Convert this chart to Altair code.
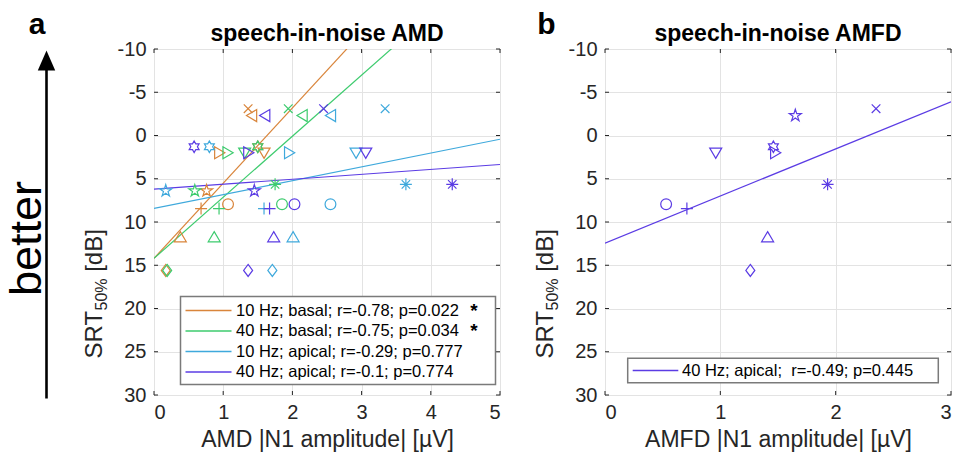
import math
import altair as alt
import pandas as pd

FONT = "Liberation Sans"
AXC = "#262626"

# ---------------- data ----------------
conds = ["10 Hz; basal", "40 Hz; basal", "10 Hz; apical", "40 Hz; apical"]
colors = ["#D9853B", "#3DCB6E", "#3FA9DC", "#5B3CE4"]

left_markers = ["x", "<", "hex", ">", "v", "pent", "*", "+", "o", "^", "d"]
srt_left = [-3.1, -2.3, 1.3, 2.0, 2.05, 6.4, 5.65, 8.45, 7.95, 11.7, 15.6]
amd_10_basal = [1.36, 1.41, 1.50, 0.95, 1.59, 0.76, None, 0.68, 1.07, 0.38, 0.17]
amd_40_basal = [1.94, 2.14, 1.50, 1.07, 1.31, 0.59, 1.75, 0.94, 1.85, 0.87, 0.19]
amd_10_apical = [3.34, 2.55, 0.80, 1.96, 2.92, 0.17, 3.64, 1.59, 2.55, 2.01, 1.71]
amd_40_apical = [2.45, 1.60, 0.58, 1.37, 3.06, 1.45, 4.31, 1.67, 2.03, 1.73, 1.36]

right_markers = ["o", "+", "v", "hex", ">", "pent", "x", "*", "^", "d"]
srt_right = [7.95, 8.45, 2.05, 1.3, 2.0, -2.3, -3.1, 5.65, 11.7, 15.6]
amfd_40_apical = [0.53, 0.71, 0.96, 1.46, 1.48, 1.65, 2.35, 1.93, 1.41, 1.26]

# regression lines (intercept at x=0, slope)
left_intercepts = [14.2, 14.2, 8.43, 6.2]
left_slopes = [-8.69, -7.06, -1.6, -0.57]
right_intercept = [12.45]
right_slope = [-5.45]

legend_left = ["10 Hz; basal; r=-0.78; p=0.022", "40 Hz; basal; r=-0.75; p=0.034",
               "10 Hz; apical; r=-0.29; p=0.777", "40 Hz; apical; r=-0.1; p=0.774"]
legend_stars = ["*", "*", "", ""]
legend_right = "40 Hz; apical;\u00a0\u00a0r=-0.49; p=0.445"

y_ticks = [-10, -5, 0, 5, 10, 15, 20, 25, 30]
x_ticks_left = [0, 1, 2, 3, 4, 5]
x_ticks_right = [0, 1, 2, 3]

# ---------------- marker shapes ----------------
def star_path(n, rin, rout=1.0):
    pts = []
    for i in range(2 * n):
        a = -math.pi / 2 + i * math.pi / n
        r = rout if i % 2 == 0 else rin
        pts.append((r * math.cos(a), r * math.sin(a)))
    return "M" + "L".join(f"{x:.3f},{y:.3f}" for x, y in pts) + "Z"

shape_names = ["x", "<", "hex", ">", "v", "pent", "*", "+", "o", "^", "d"]
shape_paths = [
    "M-0.72,-0.72L0.72,0.72M-0.72,0.72L0.72,-0.72",
    "M-0.85,0L0.85,-1L0.85,1Z",
    star_path(6, 0.55, 0.95),
    "M0.85,0L-0.85,-1L-0.85,1Z",
    "M0,0.85L1,-0.85L-1,-0.85Z",
    star_path(5, 0.40, 1.05),
    "M-1,0L1,0M0,-1L0,1M-0.7,-0.7L0.7,0.7M-0.7,0.7L0.7,-0.7",
    "M-1,0L1,0M0,-1L0,1",
    "M0.9,0A0.9,0.9,0,1,1,-0.9,0A0.9,0.9,0,1,1,0.9,0Z",
    "M0,-0.85L1,0.85L-1,0.85Z",
    "M0,-1L0.75,0L0,1L-0.75,0Z",
]

# ---------------- tables ----------------
rows = []
for cond, vals in zip(conds, [amd_10_basal, amd_40_basal, amd_10_apical, amd_40_apical]):
    for m, xv, yv in zip(left_markers, vals, srt_left):
        if xv is not None:
            rows.append({"x": xv, "y": yv, "marker": m, "cond": cond})
left_pts = pd.DataFrame(rows)
right_pts = pd.DataFrame({"x": amfd_40_apical, "y": srt_right,
                          "marker": right_markers, "cond": conds[3]})

lrows = []
for cond, b, s in zip(conds, left_intercepts, left_slopes):
    for xv in [0, 5]:
        lrows.append({"x": xv, "y": b + s * xv, "cond": cond})
left_lines = pd.DataFrame(lrows)
right_lines = pd.DataFrame([{"x": xv, "y": right_intercept[0] + right_slope[0] * xv,
                             "cond": conds[3]} for xv in [0, 3]])

W, H = 346, 346
color_scale = alt.Scale(domain=conds, range=colors)
shape_scale = alt.Scale(domain=shape_names, range=shape_paths)
y_scale = alt.Scale(domain=[-10, 30], reverse=True, nice=False, zero=False)

def y_axis():
    return alt.Axis(values=y_ticks, grid=True, gridColor="#e3e3e3", ticks=False, tickSize=0,
                    domain=False, labelFont=FONT, labelFontSize=20, labelColor=AXC,
                    labelPadding=8, title=None, labelExpr="'' + datum.value")

def x_axis(vals, title):
    return alt.Axis(values=vals, grid=True, gridColor="#e3e3e3", ticks=False, tickSize=0,
                    domain=False, labelFont=FONT, labelFontSize=20, labelColor=AXC,
                    labelPadding=7, title=title, titleFont=FONT, titleFontSize=23,
                    titleFontWeight="normal", titleColor=AXC, titlePadding=6,
                    labelExpr="'' + datum.value")

dummy = pd.DataFrame({"t": [""]})

def text(t, x, y, size, **kw):
    return alt.Chart(pd.DataFrame({"t": [t]})).mark_text(
        font=FONT, fontSize=size, **kw).encode(x=alt.value(x), y=alt.value(y), text="t:N")

def rule(x, x2, y, y2, **kw):
    return alt.Chart(dummy).mark_rule(**kw).encode(
        x=alt.value(x), x2=alt.value(x2), y=alt.value(y), y2=alt.value(y2))

def ticks(xvals, xmax):
    tx = pd.DataFrame({"x": xvals})
    ty = pd.DataFrame({"y": y_ticks})
    xs = alt.Scale(domain=[0, xmax], nice=False)
    c = []
    c.append(alt.Chart(ty).mark_rule(color=AXC, strokeWidth=1).encode(
        y=alt.Y("y:Q", scale=y_scale), x=alt.value(0), x2=alt.value(4)))
    c.append(alt.Chart(ty).mark_rule(color=AXC, strokeWidth=1).encode(
        y=alt.Y("y:Q", scale=y_scale), x=alt.value(W - 4), x2=alt.value(W)))
    c.append(alt.Chart(tx).mark_rule(color=AXC, strokeWidth=1).encode(
        x=alt.X("x:Q", scale=xs), y=alt.value(H), y2=alt.value(H - 4)))
    c.append(alt.Chart(tx).mark_rule(color=AXC, strokeWidth=1).encode(
        x=alt.X("x:Q", scale=xs), y=alt.value(0), y2=alt.value(4)))
    return c

def ytitle():
    f, fs = 24, 16
    y0 = 309.5
    w_srt = 2.0 * f
    w_sub = 2.001 * fs
    return [
        text("SRT", -52.5, y0, f, angle=270, align="left", baseline="alphabetic", color=AXC),
        text("50%", -47.0, y0 - w_srt, fs, angle=270, align="left", baseline="alphabetic", color=AXC),
        text("[dB]", -52.5, y0 - w_srt - w_sub - 0.278 * f, f, angle=270, align="left",
             baseline="alphabetic", color=AXC),
    ]

def panel(pts, lines, xmax, xvals, xtitle, title, letter):
    xs = alt.Scale(domain=[0, xmax], nice=False, zero=False)
    base_lines = alt.Chart(lines).mark_line(clip=True, strokeWidth=1.2).encode(
        x=alt.X("x:Q", scale=xs, axis=x_axis(xvals, xtitle)),
        y=alt.Y("y:Q", scale=y_scale, axis=y_axis()),
        color=alt.Color("cond:N", scale=color_scale, legend=None),
        detail="cond:N")
    points = alt.Chart(pts).mark_point(filled=False, opacity=1, size=144, strokeWidth=1.2).encode(
        x=alt.X("x:Q", scale=xs),
        y=alt.Y("y:Q", scale=y_scale),
        color=alt.Color("cond:N", scale=color_scale, legend=None),
        shape=alt.Shape("marker:N", scale=shape_scale, legend=None),
        order=alt.Order("idx:Q"))
    layers = [base_lines] + ticks(xvals, xmax) + [points]
    layers.append(text(title, W / 2, -8.5, 23, fontWeight="bold", align="center",
                       baseline="alphabetic", color="#000000"))
    layers.append(text(letter, -58.5 if letter == "b" else -117, -15.5, 30, fontWeight="bold",
                       align="center", baseline="alphabetic", color="#000000"))
    layers += ytitle()
    return layers

left_pts = left_pts.reset_index().rename(columns={"index": "idx"})
right_pts = right_pts.reset_index().rename(columns={"index": "idx"})

# left panel
L = panel(left_pts, left_lines, 5, x_ticks_left, "AMD |N1 amplitude| [µV]",
          "speech-in-noise AMD", "a")
L.append(alt.Chart(dummy).mark_rect(fill="white", stroke="#7a7a7a", strokeWidth=1.5).encode(
    x=alt.value(26.5), x2=alt.value(341.5), y=alt.value(247.5), y2=alt.value(335.5)))
row_y = [261.5, 282.0, 302.5, 323.0]
for lab, star, col, yy in zip(legend_left, legend_stars, colors, row_y):
    L.append(rule(31.5, 77.5, yy, yy, color=col, strokeWidth=1.5))
    L.append(text(lab, 82, yy, 16.5, align="left", baseline="middle", color="#000000"))
    if star:
        L.append(text(star, 320, yy, 19, fontWeight="bold", align="center",
                      baseline="middle", color="#000000"))
# arrow + "better"
L.append(rule(-107.5, -107.5, 349.5, 20, color="#000000", strokeWidth=2.6))
L.append(alt.Chart(dummy).mark_point(filled=True, opacity=1, size=400, color="#000000",
                                     shape="M0,-1L0.87,1L-0.87,1Z").encode(
    x=alt.value(-107.5), y=alt.value(11.5)))
L.append(text("better", -113, 189.5, 45, angle=270, align="center",
              baseline="alphabetic", color="#000000"))
# anchor for page origin
L.append(rule(-153.5, -152.5, -48.5, -48.5, strokeOpacity=0, strokeWidth=0.01))

# right panel
R = panel(right_pts, right_lines, 3, x_ticks_right, "AMFD |N1 amplitude| [µV]",
          "speech-in-noise AMFD", "b")
R.append(alt.Chart(dummy).mark_rect(fill="white", stroke="#7a7a7a", strokeWidth=1.5).encode(
    x=alt.value(22.7), x2=alt.value(333.3), y=alt.value(309.2), y2=alt.value(333.8)))
R.append(rule(27.7, 73.3, 321.5, 321.5, color=colors[3], strokeWidth=1.5))
R.append(text(legend_right, 77, 321.5, 16.5, align="left", baseline="middle", color="#000000"))

left = alt.layer(*L).properties(width=W, height=H)
right = alt.layer(*R).properties(width=W, height=H)

chart = alt.hconcat(left, right, spacing=105, bounds="flush").properties(
    padding=0, background="white").configure_view(stroke=AXC, strokeWidth=1)

chart.save("out.html", embed_options={"renderer": "svg", "actions": False})
